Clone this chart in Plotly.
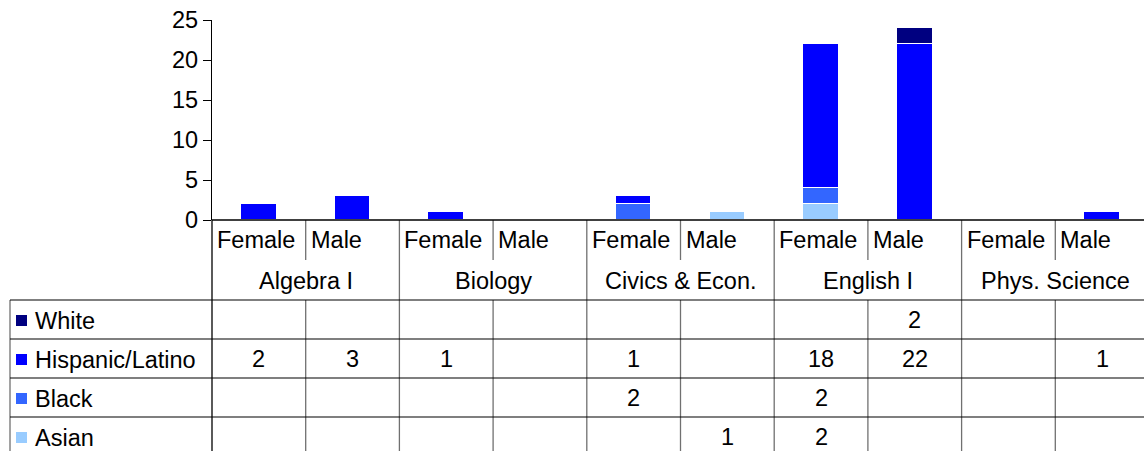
import plotly.graph_objects as go

# ---------------- data ----------------
subjects = ["Algebra I", "Biology", "Civics & Econ.", "English I", "Phys. Science"]
genders = ["Female", "Male"]
series_names = ["Asian", "Black", "Hispanic/Latino", "White"]
asian = [None, None, None, None, None, 1, 2, None, None, None]
black = [None, None, None, None, 2, None, 2, None, None, None]
hispanic = [2, 3, 1, None, 1, None, 18, 22, None, 1]
white = [None, None, None, None, None, None, None, 2, None, None]
colors = ["#99CCFF", "#3366FF", "#0000FF", "#000080"]
y_ticks = [0, 5, 10, 15, 20, 25]

series_values = [asian, black, hispanic, white]

# ---------------- geometry ----------------
W, H = 1144, 451
COL0 = 212.0
COLW = 93.7
N = len(subjects) * len(genders)
FONT = "Liberation Sans, Arial, sans-serif"
FS = 23.5


def py(y):
    return 1 - y / H


def pxp(x):
    return x / W


xs = [i + 0.5 for i in range(N)]

fig = go.Figure()
for name, vals, col in zip(series_names, series_values, colors):
    fig.add_trace(go.Bar(
        x=xs, y=[v if v is not None else 0 for v in vals], name=name,
        marker=dict(color=col, line=dict(color="white", width=1.5)),
        width=0.38, showlegend=False, hoverinfo="skip"))

shapes = []
annotations = []

# category area separators
for i in range(N + 1):
    xpix = COL0 + i * COLW
    if i % 2 == 0:
        y_bot = H
        y_top = 220
    else:
        y_bot = 260
        y_top = 220
    shapes.append(dict(type="line", xref="paper", yref="paper",
                       x0=pxp(xpix), x1=pxp(xpix), y0=py(y_top), y1=py(y_bot),
                       line=dict(color="#000000" if i == 0 else "#707070", width=1.3)))
    if i % 2 == 1 and i < N:
        shapes.append(dict(type="line", xref="paper", yref="paper",
                           x0=pxp(xpix), x1=pxp(xpix), y0=py(300), y1=py(H),
                           line=dict(color="#707070", width=1.3)))

# table left border
shapes.append(dict(type="line", xref="paper", yref="paper",
                   x0=pxp(10), x1=pxp(10), y0=py(300), y1=py(H),
                   line=dict(color="#707070", width=1.3)))

# table horizontal lines
row_lines = [300, 339, 378, 417]
for yl in row_lines:
    shapes.append(dict(type="line", xref="paper", yref="paper",
                       x0=pxp(10), x1=1, y0=py(yl), y1=py(yl),
                       line=dict(color="#000000", width=1.2)))

# x axis line
shapes.append(dict(type="line", xref="paper", yref="paper",
                   x0=pxp(COL0), x1=1, y0=py(220), y1=py(220),
                   line=dict(color="#000000", width=1.3)))

# category labels
for gi, subj in enumerate(subjects):
    for si, g in enumerate(genders):
        i = gi * 2 + si
        annotations.append(dict(x=pxp(COL0 + i * COLW + 3), y=py(240), xref="paper", yref="paper",
                                text=g, showarrow=False, xanchor="left", yanchor="middle",
                                font=dict(family=FONT, size=FS, color="#000000")))
    annotations.append(dict(x=gi * 2 + 1, y=py(281), xref="x", yref="paper",
                            text=subj, showarrow=False, xanchor="center", yanchor="middle",
                            font=dict(family=FONT, size=FS, color="#000000")))

# table rows (top to bottom: White, Hispanic, Black, Asian)
row_centers = [320, 359, 398, 437]
order = [3, 2, 1, 0]
for rc, si in zip(row_centers, order):
    shapes.append(dict(type="rect", xref="paper", yref="paper",
                       x0=pxp(16), x1=pxp(27), y0=py(rc - 5), y1=py(rc + 6),
                       fillcolor=colors[si], line=dict(width=0)))
    annotations.append(dict(x=pxp(33), y=py(rc + 1), xref="paper", yref="paper",
                            text=series_names[si], showarrow=False, xanchor="left", yanchor="middle",
                            font=dict(family=FONT, size=FS, color="#000000")))
    for i, v in enumerate(series_values[si]):
        if v is not None:
            annotations.append(dict(x=i + 0.5, y=py(rc), xref="x", yref="paper",
                                    text=str(v), showarrow=False, xanchor="center", yanchor="middle",
                                    font=dict(family=FONT, size=FS, color="#000000")))

fig.update_layout(
    width=W, height=H, barmode="stack", bargap=0,
    margin=dict(l=0, r=0, t=0, b=0, pad=0, autoexpand=False),
    paper_bgcolor="white", plot_bgcolor="white",
    shapes=shapes, annotations=annotations,
    xaxis=dict(domain=[COL0 / W, 1], range=[0, (W - COL0) / COLW], automargin=False,
               showticklabels=False, showgrid=False, zeroline=False, showline=False, ticks=""),
    yaxis=dict(domain=[py(220), py(20)], range=[0, 25], tickvals=y_ticks, automargin=False,
               showgrid=False, zeroline=False, showline=True, linecolor="#000000", linewidth=1.3,
               ticks="outside", ticklen=8, tickcolor="#000000", tickwidth=1.3,
               ticksuffix="\u00a0",
               tickfont=dict(family=FONT, size=FS, color="#000000")),
    font=dict(family=FONT),
)

fig.write_html("out.html", config={"displayModeBar": False},
               post_script="document.body.style.margin='0';document.body.style.overflow='hidden';")
